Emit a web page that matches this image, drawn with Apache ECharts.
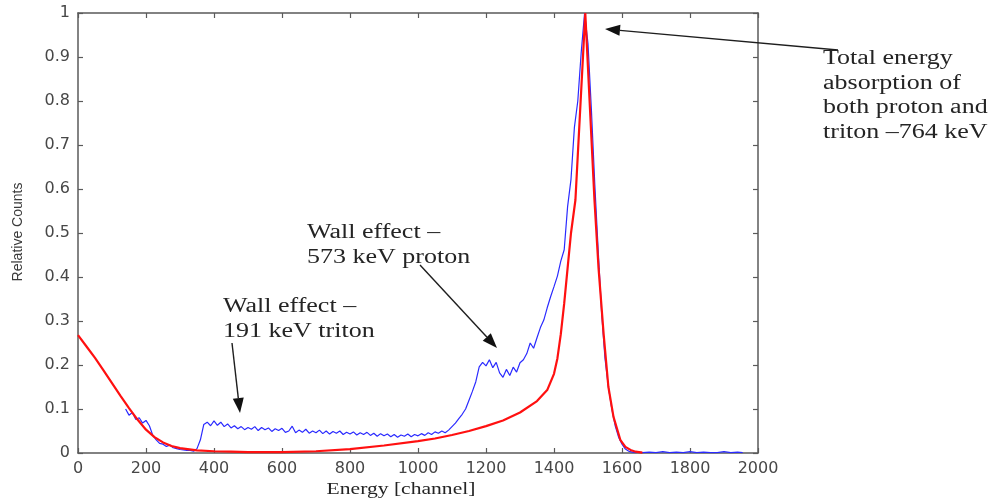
<!DOCTYPE html>
<html>
<head>
<meta charset="utf-8">
<title>Energy spectrum</title>
<script src="https://cdn.jsdelivr.net/npm/echarts@6/dist/echarts.min.js"></script>
<style>
  html, body { margin: 0; padding: 0; background: #fff; }
  #chart { width: 991px; height: 503px; }
</style>
</head>
<body>
<div id="chart"></div>
<script>
// Measured pulse-height spectrum (channel, relative counts)
var measuredChannels = [
  140,150,160,170,180,190,200,210,220,230,240,250,260,270,280,290,300,310,320,330,
  340,350,360,370,380,390,400,410,420,430,440,450,460,470,480,490,500,510,520,530,
  540,550,560,570,580,590,600,610,620,630,640,650,660,670,680,690,700,710,720,730,
  740,750,760,770,780,790,800,810,820,830,840,850,860,870,880,890,900,910,920,930,
  940,950,960,970,980,990,1000,1010,1020,1030,1040,1050,1060,1070,1080,1090,1100,1110,1120,1130,
  1140,1150,1160,1170,1180,1190,1200,1210,1220,1230,1240,1250,1260,1270,1280,1290,1300,1310,1320,1330,
  1340,1350,1360,1370,1380,1390,1400,1410,1420,1430,1440,1450,1460,1470,1480,1490,1500,1510,1520,1530,
  1540,1550,1560,1570,1580,1590,1600,1610,1620,1630,1640,1650,1660,1680,1700,1720,1740,1760,1780,1800,
  1820,1840,1860,1880,1900,1920,1940,1955
];
var measuredCounts = [
  0.100,0.086,0.092,0.076,0.080,0.068,0.074,0.062,0.040,0.030,0.022,0.020,0.015,0.018,0.012,0.010,0.008,0.007,0.006,0.006,
  0.004,0.010,0.030,0.065,0.070,0.062,0.073,0.063,0.070,0.060,0.066,0.057,0.062,0.055,0.060,0.053,0.058,0.054,0.060,0.051,
  0.058,0.053,0.057,0.049,0.055,0.051,0.056,0.047,0.050,0.061,0.046,0.052,0.047,0.054,0.045,0.050,0.046,0.052,0.044,0.050,
  0.043,0.049,0.045,0.050,0.042,0.047,0.043,0.048,0.041,0.046,0.042,0.047,0.040,0.045,0.038,0.044,0.039,0.043,0.037,0.042,
  0.036,0.041,0.038,0.043,0.037,0.042,0.039,0.044,0.040,0.046,0.042,0.048,0.045,0.050,0.046,0.052,0.060,0.068,0.078,0.088,
  0.100,0.120,0.140,0.162,0.196,0.206,0.198,0.212,0.194,0.206,0.182,0.172,0.190,0.176,0.195,0.184,0.205,0.212,0.226,0.250,
  0.238,0.262,0.285,0.302,0.330,0.355,0.378,0.402,0.436,0.462,0.560,0.622,0.740,0.800,0.910,1.000,0.930,0.780,0.610,0.460,
  0.320,0.215,0.150,0.100,0.062,0.036,0.020,0.009,0.004,0.002,0.001,0.002,0.001,0.002,0.001,0.003,0.001,0.002,0.001,0.003,
  0.001,0.002,0.001,0.001,0.003,0.001,0.002,0.001
];

// Model response function (channel, relative counts)
var modelChannels = [
  0,25,50,75,100,125,150,175,200,225,250,275,300,350,400,450,500,600,700,800,
  900,1000,1050,1100,1150,1200,1250,1300,1350,1380,1400,1410,1420,1430,1440,1450,1463,1492,1519,1531,
  1546,1560,1575,1595,1610,1625,1640,1660
];
var modelCounts = [
  0.268,0.242,0.216,0.188,0.159,0.130,0.102,0.076,0.053,0.036,0.024,0.016,0.011,0.006,0.004,0.003,0.002,0.002,0.004,0.009,
  0.017,0.027,0.033,0.041,0.050,0.061,0.074,0.092,0.118,0.143,0.180,0.215,0.270,0.340,0.420,0.500,0.575,1.000,0.575,0.420,
  0.270,0.150,0.082,0.030,0.014,0.007,0.003,0.001
];

// Axis ticks
var xTicks = { min: 0, max: 2000, step: 200 };
var yTicks = { min: 0, max: 1, step: 0.1 };

function pairs(xs, ys) {
  return xs.map(function (x, i) { return [x, ys[i]]; });
}

var axisGray = '#5a5a5a';
var tickFont = { fontFamily: 'DejaVu Sans', fontSize: 16, color: '#474747' };

function valueAxis(range, extra) {
  var base = {
    type: 'value',
    min: range.min,
    max: range.max,
    interval: range.step,
    splitLine: { show: false },
    axisLine: { show: true, onZero: false, lineStyle: { color: axisGray, width: 1.5 } },
    axisTick: { show: true, inside: true, length: 5, lineStyle: { color: axisGray, width: 1.2 } }
  };
  return Object.assign(base, extra);
}

var chart = echarts.init(document.getElementById('chart'), null, { renderer: 'canvas' });

// Arrow: shaft plus filled head, given tail and tip in pixels
function arrow(x1, y1, x2, y2) {
  var dx = x2 - x1, dy = y2 - y1, len = Math.sqrt(dx * dx + dy * dy);
  var ux = dx / len, uy = dy / len;
  var hl = 15, hw = 5.5;
  var bx = x2 - ux * hl, by = y2 - uy * hl;
  return [
    { type: 'line', shape: { x1: x1, y1: y1, x2: bx, y2: by },
      style: { stroke: '#1e1e1e', lineWidth: 1.4 }, z: 100 },
    { type: 'polygon', shape: { points: [[x2, y2], [bx - uy * hw, by + ux * hw], [bx + uy * hw, by - ux * hw]] },
      style: { fill: '#111' }, z: 100 }
  ];
}

function label(text, x, y, size, sx, extra) {
  return {
    type: 'text', x: x, y: y, scaleX: sx, z: 100,
    style: Object.assign({
      text: text,
      font: size + 'px "Liberation Serif", "Times New Roman", serif',
      fill: '#242424', align: 'left', verticalAlign: 'middle'
    }, extra || {})
  };
}

var graphics = []
  .concat(arrow(838, 50, 605, 29))
  .concat(arrow(420, 265, 497, 348))
  .concat(arrow(232, 343, 240, 413))
  .concat([
    label('Total energy', 823, 59, 20, 1.3),
    label('absorption of', 823, 83.5, 20, 1.3),
    label('both proton and', 823, 108, 20, 1.3),
    label('triton \u2013764 keV', 823, 132.5, 20, 1.3),
    label('Wall effect \u2013', 307, 233, 20, 1.3),
    label('573 keV proton', 307, 257.5, 20, 1.3),
    label('Wall effect \u2013', 223, 307, 20, 1.3),
    label('191 keV triton', 223, 331.5, 20, 1.3),
    label('Energy [channel]', 401, 490, 17, 1.27, { align: 'center' }),
    {
      type: 'text', x: 18, y: 232, rotation: Math.PI / 2, z: 100,
      style: { text: 'Relative Counts', font: '14px "Liberation Sans", Arial, sans-serif',
               fill: '#3a3a3a', align: 'center', verticalAlign: 'middle' }
    }
  ]);

chart.setOption({
  animation: false,
  backgroundColor: '#ffffff',
  grid: { left: 78, right: 233, top: 13, bottom: 50, containLabel: false },
  xAxis: [
    valueAxis(xTicks, {
      position: 'bottom',
      axisLabel: Object.assign({ margin: 8, formatter: function (v) { return String(v); } }, tickFont)
    }),
    valueAxis(xTicks, { position: 'top', axisLabel: { show: false } })
  ],
  yAxis: [
    valueAxis(yTicks, {
      position: 'left',
      axisLabel: Object.assign({ margin: 8, formatter: function (v) { return String(+v.toFixed(1)); } }, tickFont)
    }),
    valueAxis(yTicks, { position: 'right', axisLabel: { show: false } })
  ],
  series: [
    {
      name: 'Measured',
      type: 'line',
      data: pairs(measuredChannels, measuredCounts),
      showSymbol: false,
      symbol: 'none',
      lineStyle: { color: '#2a2aff', width: 1.2 },
      z: 3
    },
    {
      name: 'Model',
      type: 'line',
      data: pairs(modelChannels, modelCounts),
      showSymbol: false,
      symbol: 'none',
      lineStyle: { color: '#ff1010', width: 2.2 },
      z: 4
    }
  ],
  graphic: graphics
});
</script>
</body>
</html>
